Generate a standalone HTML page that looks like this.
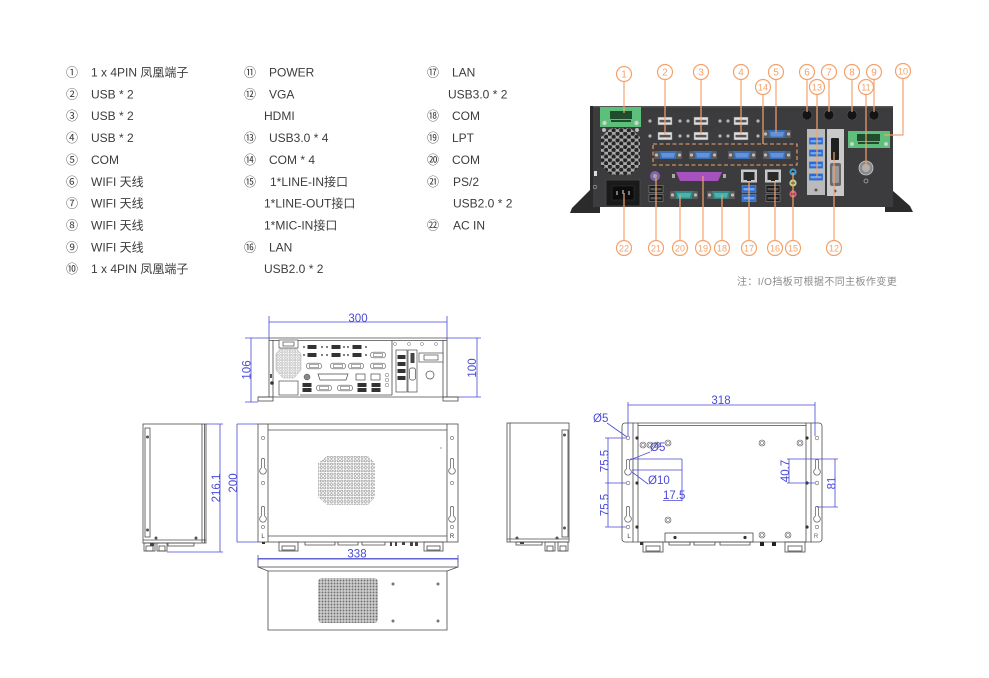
<!DOCTYPE html>
<html><head><meta charset="utf-8">
<style>
html,body{margin:0;padding:0;background:#fff;}
svg{display:block;}
.t{font-family:"Liberation Sans","Noto Sans CJK SC",sans-serif;font-size:12px;fill:#3c3c3c;}
.c{font-family:"Noto Sans CJK SC",sans-serif;font-size:12px;fill:#3c3c3c;text-anchor:middle;}
.o{fill:none;stroke:#f2a26c;stroke-width:1.2;}
.on{font-family:"Liberation Sans",sans-serif;font-size:10px;fill:#f2a26c;text-anchor:middle;}
.d{stroke:#4a4ad8;stroke-width:0.8;fill:none;}
.dt{font-family:"Liberation Sans",sans-serif;font-size:11.5px;fill:#4a4ad8;}
.l{stroke:#4a4a4a;stroke-width:0.8;fill:none;}
.lf{stroke:#4a4a4a;stroke-width:0.7;fill:#fff;}
</style></head><body>
<svg xmlns="http://www.w3.org/2000/svg" width="989" height="678" viewBox="0 0 989 678">
<defs>
<pattern id="hex" patternUnits="userSpaceOnUse" width="7.6" height="6.6"><rect width="7.6" height="6.6" fill="#a8a8a8"/><circle cx="1.9" cy="1.65" r="2.2" fill="#262626"/><circle cx="5.7" cy="4.95" r="2.2" fill="#262626"/></pattern>
<pattern id="vent" patternUnits="userSpaceOnUse" width="3.4" height="3.4"><circle cx="1.7" cy="1.7" r="1.1" fill="none" stroke="#777" stroke-width="0.5"/></pattern>
<pattern id="vent2" patternUnits="userSpaceOnUse" width="3" height="3"><rect width="3" height="3" fill="#d0d0d0"/><circle cx="1.5" cy="1.5" r="0.95" fill="#707070"/></pattern>
<pattern id="fan" patternUnits="userSpaceOnUse" width="2.6" height="2.6"><circle cx="1.3" cy="1.3" r="0.9" fill="none" stroke="#888" stroke-width="0.4"/></pattern>
<g id="db9b"><rect x="-14" y="-4" width="28" height="8" rx="1" fill="#5a5a5a"/><circle cx="-11.5" cy="0" r="1.6" fill="#bbb"/><circle cx="11.5" cy="0" r="1.6" fill="#bbb"/><path d="M-9,-4 L9,-4 L7.5,4 L-7.5,4 Z" fill="#3c6fb8"/><path d="M-7,-2 L7,-2 L6,2.5 L-6,2.5Z" fill="#6193d6"/></g>
<g id="db9t"><rect x="-14" y="-4" width="28" height="8" rx="1" fill="#5a5a5a"/><circle cx="-11.5" cy="0" r="1.6" fill="#bbb"/><circle cx="11.5" cy="0" r="1.6" fill="#bbb"/><path d="M-9,-4 L9,-4 L7.5,4 L-7.5,4 Z" fill="#2e8a86"/><path d="M-7,-2 L7,-2 L6,2.5 L-6,2.5Z" fill="#4fb0aa"/></g>
<g id="usbs"><rect x="-7" y="-3.8" width="14" height="7.6" fill="#e2e2e2" stroke="#8a8a8a" stroke-width="0.5"/><rect x="-5.5" y="-1.2" width="11" height="2.6" fill="#555"/></g>
<g id="usbb"><rect x="-7" y="-3.5" width="14" height="7" fill="#2a6bd1" stroke="#9ab" stroke-width="0.4"/><rect x="-5.5" y="-1" width="11" height="2.4" fill="#6fa4f0"/></g>
<g id="usbk"><rect x="-7" y="-3.5" width="14" height="7" fill="#1b1b1b" stroke="#999" stroke-width="0.5"/><rect x="-5.5" y="-1" width="11" height="2.4" fill="#555"/></g>
<g id="lan"><rect x="-8" y="-6.5" width="16" height="13" fill="#c8c8c8"/><rect x="-5.5" y="-4" width="11" height="8" fill="#2a2a2a"/><rect x="-2" y="3" width="4" height="2" fill="#2a2a2a"/></g>
<path id="kh" d="M-1.6,-6 A1.6,1.6 0 0 1 1.6,-6 L1.6,2 A3.3,3.3 0 1 1 -1.6,2 Z" fill="#fff" stroke="#555" stroke-width="0.7"/>
<g id="fdb"><rect x="-7.5" y="-2.8" width="15" height="5.6" rx="2.5" fill="#fff" stroke="#555" stroke-width="0.6"/><rect x="-4.5" y="-1.6" width="9" height="3.2" fill="#fff" stroke="#555" stroke-width="0.5"/></g>
<g id="fus"><rect x="-4.5" y="-2" width="9" height="4" fill="#333"/></g>
<g id="dr"><circle r="3" fill="#fff" stroke="#555" stroke-width="0.6"/><circle r="1.7" fill="none" stroke="#555" stroke-width="0.5"/></g>
</defs>

<!-- ===== LIST ===== -->
<g>
<text class="c" x="72" y="76.5">①</text><text class="t" x="91" y="76.5">1 x 4PIN 凤凰端子</text>
<text class="c" x="72" y="98.4">②</text><text class="t" x="91" y="98.4">USB * 2</text>
<text class="c" x="72" y="120.2">③</text><text class="t" x="91" y="120.2">USB * 2</text>
<text class="c" x="72" y="142.1">④</text><text class="t" x="91" y="142.1">USB * 2</text>
<text class="c" x="72" y="163.9">⑤</text><text class="t" x="91" y="163.9">COM</text>
<text class="c" x="72" y="185.8">⑥</text><text class="t" x="91" y="185.8">WIFI 天线</text>
<text class="c" x="72" y="207.7">⑦</text><text class="t" x="91" y="207.7">WIFI 天线</text>
<text class="c" x="72" y="229.5">⑧</text><text class="t" x="91" y="229.5">WIFI 天线</text>
<text class="c" x="72" y="251.4">⑨</text><text class="t" x="91" y="251.4">WIFI 天线</text>
<text class="c" x="72" y="273.2">⑩</text><text class="t" x="91" y="273.2">1 x 4PIN 凤凰端子</text>

<text class="c" x="250" y="76.5">⑪</text><text class="t" x="269" y="76.5">POWER</text>
<text class="c" x="250" y="98.4">⑫</text><text class="t" x="269" y="98.4">VGA</text>
<text class="t" x="264" y="120.2">HDMI</text>
<text class="c" x="250" y="142.1">⑬</text><text class="t" x="269" y="142.1">USB3.0 * 4</text>
<text class="c" x="250" y="163.9">⑭</text><text class="t" x="269" y="163.9">COM * 4</text>
<text class="c" x="250" y="185.8">⑮</text><text class="t" x="270" y="185.8">1*LINE-IN接口</text>
<text class="t" x="264" y="207.7">1*LINE-OUT接口</text>
<text class="t" x="264" y="229.5">1*MIC-IN接口</text>
<text class="c" x="250" y="251.4">⑯</text><text class="t" x="269" y="251.4">LAN</text>
<text class="t" x="264" y="273.2">USB2.0 * 2</text>

<text class="c" x="433" y="76.5">⑰</text><text class="t" x="452" y="76.5">LAN</text>
<text class="t" x="448" y="98.4">USB3.0 * 2</text>
<text class="c" x="433" y="120.2">⑱</text><text class="t" x="452" y="120.2">COM</text>
<text class="c" x="433" y="142.1">⑲</text><text class="t" x="452" y="142.1">LPT</text>
<text class="c" x="433" y="163.9">⑳</text><text class="t" x="452" y="163.9">COM</text>
<text class="c" x="433" y="185.8">㉑</text><text class="t" x="453" y="185.8">PS/2</text>
<text class="t" x="453" y="207.7">USB2.0 * 2</text>
<text class="c" x="433" y="229.5">㉒</text><text class="t" x="453" y="229.5">AC IN</text>
</g>

<!-- ===== PHOTO ===== -->
<g>
<path d="M590,190 L590,207 L600,207 L600,213 L570,213 L572,208 Z" fill="#2b2b2b"/>
<path d="M892,190 L910,206 L913,212 L885,212 L885,207 L892,207 Z" fill="#2b2b2b"/>
<rect x="590" y="106" width="303" height="101" fill="#3c3c3e"/>
<rect x="590" y="106" width="303" height="1.5" fill="#555"/>
<rect x="590" y="106" width="3" height="101" fill="#2a2a2a"/>
<!-- green terminal 1 -->
<rect x="600" y="107" width="41" height="20" fill="#5cbf7a"/>
<rect x="610" y="111" width="22" height="8" fill="#1f4d2d"/>
<rect x="611" y="120" width="20" height="2" fill="#1f4d2d"/>
<circle cx="604.5" cy="123" r="2.2" fill="#d0d0d0"/><circle cx="636.5" cy="123" r="2.2" fill="#d0d0d0"/>
<!-- fan -->
<path d="M611,128 L630,128 L640,137 L640,166 L630,175 L611,175 L601,166 L601,137 Z" fill="url(#hex)"/>
<circle cx="604" cy="130" r="2" fill="#bbb"/><circle cx="637" cy="130" r="2" fill="#bbb"/>
<rect x="594" y="171" width="3" height="5" fill="#ddd"/>
<circle cx="595" cy="187" r="1.8" fill="none" stroke="#aaa" stroke-width="0.6"/>
<!-- AC IN -->
<rect x="606" y="180" width="34" height="26" fill="#1a1a1a" stroke="#4a4a4a" stroke-width="0.8"/>
<rect x="612" y="186" width="22" height="14" fill="#0c0c0c" stroke="#333" stroke-width="0.6"/>
<rect x="616" y="191" width="2" height="4" fill="#777"/><rect x="622" y="190" width="2" height="4" fill="#777"/><rect x="628" y="191" width="2" height="4" fill="#777"/>
<!-- USB silver -->
<use href="#usbs" x="665" y="121"/><use href="#usbs" x="701" y="121"/><use href="#usbs" x="741" y="121"/>
<use href="#usbs" x="665" y="136"/><use href="#usbs" x="701" y="136"/><use href="#usbs" x="741" y="136"/>
<g fill="#b5b5b5">
<circle cx="650" cy="121" r="1.6"/><circle cx="680" cy="121" r="1.6"/><circle cx="688" cy="121" r="1.6"/><circle cx="720" cy="121" r="1.6"/><circle cx="728" cy="121" r="1.6"/><circle cx="758" cy="121" r="1.6"/>
<circle cx="650" cy="136" r="1.6"/><circle cx="680" cy="136" r="1.6"/><circle cx="688" cy="136" r="1.6"/><circle cx="720" cy="136" r="1.6"/><circle cx="728" cy="136" r="1.6"/><circle cx="758" cy="136" r="1.6"/>
</g>
<use href="#db9b" x="777" y="134"/>
<use href="#db9b" x="668" y="155"/><use href="#db9b" x="703" y="155"/><use href="#db9b" x="742" y="155"/><use href="#db9b" x="777" y="155"/>
<rect x="653" y="144" width="144" height="21" fill="none" stroke="#f2a26c" stroke-width="1.1" stroke-dasharray="4,2.5"/>
<!-- bottom ports -->
<circle cx="655" cy="176" r="5" fill="#8e5bb5"/><circle cx="655" cy="176" r="2" fill="#7fc08a"/>
<use href="#usbk" x="656" y="189"/><use href="#usbk" x="656" y="198"/>
<path d="M676,172 L722,172 L718,181 L680,181 Z" fill="#a552bf"/><rect x="672" y="174" width="3" height="4" fill="#aaa"/><rect x="723" y="174" width="3" height="4" fill="#aaa"/>
<use href="#db9t" x="684" y="195"/><use href="#db9t" x="721" y="195"/>
<use href="#lan" x="749" y="176"/><use href="#lan" x="773" y="176"/>
<use href="#usbb" x="749" y="189"/><use href="#usbb" x="749" y="198"/>
<use href="#usbk" x="773" y="189"/><use href="#usbk" x="773" y="198"/>
<circle cx="793" cy="172" r="3.6" fill="#39a0d8"/><circle cx="793" cy="172" r="1.5" fill="#222"/>
<circle cx="793" cy="183" r="3.6" fill="#bcd68c"/><circle cx="793" cy="183" r="1.5" fill="#222"/>
<circle cx="793" cy="194" r="3.6" fill="#e0607a"/><circle cx="793" cy="194" r="1.5" fill="#222"/>
<!-- antennas -->
<g fill="#141414" stroke="#555" stroke-width="0.6">
<circle cx="807" cy="115" r="5"/><circle cx="829" cy="115" r="5"/><circle cx="852" cy="115" r="5"/><circle cx="874" cy="115" r="5"/>
</g>
<!-- USB3 plate -->
<rect x="807" y="129" width="18" height="66" fill="#bababa"/>
<use href="#usbb" x="816" y="141"/><use href="#usbb" x="816" y="153"/><use href="#usbb" x="816" y="165"/><use href="#usbb" x="816" y="177"/>
<circle cx="816" cy="190" r="1.5" fill="#555"/>
<!-- HDMI VGA plate -->
<rect x="827" y="129" width="17" height="67" fill="#c9c9c9"/>
<rect x="831" y="138" width="8" height="22" rx="1" fill="#1f1f1f"/>
<rect x="830" y="163" width="11" height="23" rx="2" fill="#6a6a6a"/><rect x="832" y="166" width="7" height="17" rx="1" fill="#999"/>
<circle cx="835" cy="191" r="1.5" fill="#555"/>
<!-- green terminal 2 -->
<rect x="848" y="131" width="42" height="17" fill="#5cbf7a"/>
<rect x="857" y="134" width="23" height="7" fill="#1f4d2d"/>
<rect x="858" y="142" width="21" height="2" fill="#1f4d2d"/>
<circle cx="852" cy="144" r="2" fill="#d0d0d0"/><circle cx="886" cy="144" r="2" fill="#d0d0d0"/>
<!-- power knob -->
<circle cx="866" cy="168" r="7" fill="#8a8a8a" stroke="#c8c8c8" stroke-width="0.8"/><circle cx="866" cy="168" r="4" fill="#b0b0b0"/>
<circle cx="866" cy="181" r="2" fill="none" stroke="#bbb" stroke-width="0.7"/>
</g>

<!-- callouts -->
<g class="o">
<line x1="624" y1="81.5" x2="624" y2="113"/>
<line x1="665" y1="79.5" x2="665" y2="135"/>
<line x1="701" y1="79.5" x2="701" y2="135"/>
<line x1="741" y1="79.5" x2="741" y2="135"/>
<line x1="776" y1="79.5" x2="776" y2="133"/>
<line x1="763" y1="94.5" x2="763" y2="144"/>
<line x1="807" y1="79.5" x2="807" y2="112"/>
<line x1="817" y1="94.5" x2="817" y2="177"/>
<line x1="829" y1="79.5" x2="829" y2="112"/>
<line x1="852" y1="79.5" x2="852" y2="112"/>
<line x1="866" y1="94.5" x2="866" y2="168"/>
<line x1="874" y1="79.5" x2="874" y2="112"/>
<polyline points="903,78.5 903,135 884,135"/>
<line x1="624" y1="240.5" x2="624" y2="193"/>
<line x1="656" y1="240.5" x2="656" y2="178"/>
<line x1="680" y1="240.5" x2="680" y2="195"/>
<line x1="703" y1="240.5" x2="703" y2="176"/>
<line x1="722" y1="240.5" x2="722" y2="195"/>
<line x1="749" y1="240.5" x2="749" y2="182"/>
<line x1="775" y1="240.5" x2="775" y2="182"/>
<line x1="793" y1="240.5" x2="793" y2="172"/>
<line x1="834" y1="240.5" x2="834" y2="152"/>
<g fill="#fff">
<circle cx="624" cy="74" r="7.5"/><circle cx="665" cy="72" r="7.5"/><circle cx="701" cy="72" r="7.5"/><circle cx="741" cy="72" r="7.5"/><circle cx="776" cy="72" r="7.5"/>
<circle cx="763" cy="87" r="7.5"/><circle cx="807" cy="72" r="7.5"/><circle cx="817" cy="87" r="7.5"/><circle cx="829" cy="72" r="7.5"/><circle cx="852" cy="72" r="7.5"/>
<circle cx="866" cy="87" r="7.5"/><circle cx="874" cy="72" r="7.5"/><circle cx="903" cy="71" r="7.5"/>
<circle cx="624" cy="248" r="7.5"/><circle cx="656" cy="248" r="7.5"/><circle cx="680" cy="248" r="7.5"/><circle cx="703" cy="248" r="7.5"/><circle cx="722" cy="248" r="7.5"/>
<circle cx="749" cy="248" r="7.5"/><circle cx="775" cy="248" r="7.5"/><circle cx="793" cy="248" r="7.5"/><circle cx="834" cy="248" r="7.5"/>
</g>
</g>
<g class="on">
<text x="624" y="77.6">1</text><text x="665" y="75.6">2</text><text x="701" y="75.6">3</text><text x="741" y="75.6">4</text><text x="776" y="75.6">5</text>
<text x="763" y="90.6" font-size="9">14</text><text x="807" y="75.6">6</text><text x="817" y="90.6" font-size="9">13</text><text x="829" y="75.6">7</text><text x="852" y="75.6">8</text>
<text x="866" y="90.6" font-size="9">11</text><text x="874" y="75.6">9</text><text x="903" y="74.6" font-size="9">10</text>
<text x="624" y="251.4" font-size="9">22</text><text x="656" y="251.4" font-size="9">21</text><text x="680" y="251.4" font-size="9">20</text><text x="703" y="251.4" font-size="9">19</text><text x="722" y="251.4" font-size="9">18</text>
<text x="749" y="251.4" font-size="9">17</text><text x="775" y="251.4" font-size="9">16</text><text x="793" y="251.4" font-size="9">15</text><text x="834" y="251.4" font-size="9">12</text>
</g>
<text x="737" y="285" style="font-family:'Liberation Sans','Noto Sans CJK SC',sans-serif;font-size:10px;fill:#8a8a8a;letter-spacing:0.4px">注：I/O挡板可根据不同主板作变更</text>

<!-- ===== FRONT VIEW ===== -->
<g>
<path class="d" d="M269,316 V338 M447,316 V338 M269,322 H447"/>
<text class="dt" x="358" y="322" text-anchor="middle">300</text>
<path class="d" d="M245,338 H269 M245,402 H258 M251,338 V402"/>
<text class="dt" transform="translate(250.5,370) rotate(-90)" text-anchor="middle">106</text>
<path class="d" d="M447,338 H481 M458,397 H481 M477,338 V397"/>
<text class="dt" transform="translate(476,368) rotate(-90)" text-anchor="middle">100</text>

<g class="l">
<line x1="269" y1="338" x2="447" y2="338"/>
<line x1="269" y1="340.5" x2="447" y2="340.5"/>
<line x1="269" y1="338" x2="269" y2="397"/>
<line x1="273" y1="340" x2="273" y2="397"/>
<line x1="447" y1="338" x2="447" y2="397"/>
<line x1="443" y1="340" x2="443" y2="397"/>
<line x1="258" y1="397" x2="458" y2="397"/>
<rect x="258" y="397" width="15" height="4"/>
<rect x="443" y="397" width="15" height="4"/>
<line x1="300" y1="395" x2="392" y2="395"/>
<line x1="392" y1="340" x2="392" y2="395"/>
</g>
<path d="M281,348 L296,348 L301,354 L301,370 L294,378 L283,378 L276,370 L276,354 Z" fill="url(#fan)" stroke="#999" stroke-width="0.4"/>
<rect x="279" y="340" width="19" height="8" class="lf"/><rect x="283" y="342" width="11" height="4" class="lf"/>
<rect x="279" y="381" width="19" height="14" class="lf"/>
<rect x="270" y="374" width="2" height="4" fill="#555"/><circle cx="272" cy="383" r="1.8" fill="#333"/>
<use href="#fus" x="312" y="347"/><use href="#fus" x="336" y="347"/><use href="#fus" x="357" y="347"/>
<use href="#fus" x="312" y="355"/><use href="#fus" x="336" y="355"/><use href="#fus" x="357" y="355"/>
<g fill="#555"><circle cx="304" cy="347" r="1"/><circle cx="322" cy="347" r="1"/><circle cx="327" cy="347" r="1"/><circle cx="344" cy="347" r="1"/><circle cx="348" cy="347" r="1"/><circle cx="366" cy="347" r="1"/>
<circle cx="304" cy="355" r="1"/><circle cx="322" cy="355" r="1"/><circle cx="327" cy="355" r="1"/><circle cx="344" cy="355" r="1"/><circle cx="348" cy="355" r="1"/><circle cx="366" cy="355" r="1"/></g>
<use href="#fdb" x="378" y="355"/>
<use href="#fdb" x="314" y="366"/><use href="#fdb" x="338" y="366"/><use href="#fdb" x="356" y="366"/><use href="#fdb" x="378" y="366"/>
<circle cx="307" cy="377" r="3" fill="#888" stroke="#444" stroke-width="0.5"/>
<path d="M318,374 L348,374 L346,380 L320,380 Z" class="lf"/>
<rect x="356" y="374" width="9" height="6" class="lf"/><rect x="371" y="374" width="9" height="6" class="lf"/>
<use href="#fus" x="307" y="385"/><use href="#fus" x="307" y="390"/>
<use href="#fus" x="362" y="385"/><use href="#fus" x="362" y="390"/>
<use href="#fus" x="376" y="385"/><use href="#fus" x="376" y="390"/>
<use href="#fdb" x="324" y="388"/><use href="#fdb" x="345" y="388"/>
<g fill="none" stroke="#666" stroke-width="0.5"><circle cx="387" cy="375" r="1.8"/><circle cx="387" cy="380" r="1.8"/><circle cx="387" cy="385" r="1.8"/>
<circle cx="395" cy="344" r="1.5"/><circle cx="409" cy="344" r="1.5"/><circle cx="422" cy="344" r="1.5"/><circle cx="436" cy="344" r="1.5"/></g>
<rect x="396" y="350" width="11" height="42" class="lf"/>
<rect x="397.5" y="355" width="8" height="4" fill="#333"/><rect x="397.5" y="362" width="8" height="4" fill="#333"/><rect x="397.5" y="369" width="8" height="4" fill="#333"/><rect x="397.5" y="376" width="8" height="4" fill="#333"/>
<rect x="408" y="350" width="9" height="42" class="lf"/>
<rect x="410.5" y="353" width="4" height="10" fill="#444"/><rect x="409.5" y="368" width="6" height="12" rx="2" class="lf"/>
<rect x="419" y="353" width="24" height="9" class="lf"/><rect x="424" y="355" width="14" height="5" class="lf"/>
<circle cx="430" cy="375" r="4" class="lf"/>
</g>

<!-- ===== LEFT SIDE VIEW ===== -->
<g>
<rect x="143" y="424" width="63" height="119" class="l"/>
<rect x="145" y="428" width="5" height="109" class="l"/>
<line x1="202" y1="424" x2="202" y2="543" class="l"/>
<line x1="204.5" y1="424" x2="204.5" y2="543" class="l"/>
<line x1="143" y1="540" x2="206" y2="540" class="l"/>
<g fill="#555"><circle cx="147.5" cy="437" r="1.5"/><circle cx="147.5" cy="530" r="1.5"/><circle cx="156" cy="538" r="1.5"/><circle cx="196" cy="538" r="1.5"/></g>
<rect x="144" y="543" width="11" height="8" class="l"/><rect x="146" y="546" width="7" height="5" class="l"/>
<rect x="157" y="543" width="10" height="8" class="l"/><rect x="159" y="546" width="6" height="5" class="l"/>
<rect x="168" y="543" width="26" height="3" class="l"/><rect x="150" y="543" width="4" height="3" fill="#444"/>
<path class="d" d="M206,424 H223 M167,552 H223 M220,424 V552"/>
<text class="dt" transform="translate(220,488) rotate(-90)" text-anchor="middle">216.1</text>
</g>

<!-- ===== TOP VIEW ===== -->
<g>
<rect x="258" y="424" width="200" height="118" class="l"/>
<line x1="268" y1="424" x2="268" y2="542" class="l"/>
<line x1="447" y1="424" x2="447" y2="542" class="l"/>
<line x1="268" y1="430" x2="447" y2="430" class="l"/>
<line x1="268" y1="536" x2="447" y2="536" class="l"/>
<g fill="none" stroke="#666" stroke-width="0.6">
<circle cx="263" cy="438" r="1.6"/><circle cx="263" cy="483" r="1.6"/><circle cx="263" cy="527" r="1.6"/>
<circle cx="452" cy="438" r="1.6"/><circle cx="452" cy="483" r="1.6"/><circle cx="452" cy="527" r="1.6"/>
</g>
<use href="#kh" x="263" y="466"/><use href="#kh" x="263" y="514"/>
<use href="#kh" x="452" y="466"/><use href="#kh" x="452" y="514"/>
<text x="263" y="538" text-anchor="middle" style="font-family:'Liberation Sans',sans-serif;font-size:6px;fill:#333">L</text>
<text x="452" y="538" text-anchor="middle" style="font-family:'Liberation Sans',sans-serif;font-size:6px;fill:#333">R</text>
<circle cx="441" cy="448" r="0.6" fill="#555"/>
<path d="M327,456 L368,456 L375,463 L375,497 L368,505 L327,505 L318,497 L318,463 Z" fill="url(#vent)"/>
<rect x="279" y="542" width="19" height="9" class="l"/><rect x="282" y="546" width="13" height="4" class="l"/><rect x="262" y="542" width="3" height="2" fill="#333"/>
<rect x="424" y="542" width="19" height="9" class="l"/><rect x="427" y="546" width="13" height="4" class="l"/>
<path class="l" d="M305,542 V545 H335 V542 M338,542 V545 H358 V542 M362,542 V545 H385 V542"/>
<g fill="#444"><rect x="390" y="542" width="2" height="4"/><rect x="395" y="542" width="2" height="4"/><rect x="402" y="542" width="3" height="3"/><rect x="410" y="542" width="3" height="4"/><rect x="415" y="542" width="3" height="4"/></g>
<path class="d" d="M237,424 H258 M237,542 H258 M237,424 V542"/>
<text class="dt" transform="translate(237,483) rotate(-90)" text-anchor="middle">200</text>
</g>

<!-- ===== BOTTOM VIEW ===== -->
<g>
<rect x="258" y="559" width="200" height="8" class="l"/>
<path class="l" d="M258,567 L268,571 L268,630 L447,630 L447,571 L458,567"/>
<line x1="268" y1="571" x2="447" y2="571" class="l"/>
<path class="d" d="M258,555 V562 M458,555 V562 M258,558.5 H458"/>
<text class="dt" x="357" y="557.5" text-anchor="middle">338</text>
<rect x="318" y="578" width="60" height="45" rx="4" fill="url(#vent2)"/>
<g fill="#777"><circle cx="393" cy="584" r="1.5"/><circle cx="438" cy="584" r="1.5"/><circle cx="393" cy="621" r="1.5"/><circle cx="438" cy="621" r="1.5"/></g>
</g>

<!-- ===== RIGHT SIDE VIEW ===== -->
<g>
<rect x="507" y="423" width="62" height="119" class="l"/>
<line x1="510" y1="423" x2="510" y2="542" class="l"/>
<rect x="562" y="430" width="6" height="107" class="l"/>
<line x1="507" y1="539" x2="569" y2="539" class="l"/>
<g fill="#555"><circle cx="564.5" cy="435" r="1.5"/><circle cx="564.5" cy="528" r="1.5"/><circle cx="517" cy="538" r="1.5"/><circle cx="557" cy="538" r="1.5"/></g>
<rect x="516" y="542" width="26" height="3" class="l"/><rect x="520" y="542" width="4" height="2" fill="#444"/>
<rect x="545" y="542" width="10" height="9" class="l"/><rect x="547" y="546" width="6" height="5" class="l"/>
<rect x="558" y="542" width="10" height="9" class="l"/><rect x="560" y="546" width="6" height="5" class="l"/>
</g>

<!-- ===== RIGHT DRAWING ===== -->
<g>
<rect x="622" y="423" width="200" height="119" rx="3" class="l"/>
<line x1="633" y1="423" x2="633" y2="542" class="l"/>
<line x1="638" y1="423" x2="638" y2="542" class="l"/>
<line x1="806" y1="423" x2="806" y2="542" class="l"/>
<line x1="811" y1="423" x2="811" y2="542" class="l"/>
<line x1="638" y1="425.5" x2="806" y2="425.5" class="l"/>
<g fill="none" stroke="#666" stroke-width="0.6">
<circle cx="628" cy="438" r="1.8"/><circle cx="628" cy="483" r="1.8"/><circle cx="628" cy="527" r="1.8"/>
<circle cx="817" cy="438" r="1.8"/><circle cx="817" cy="483" r="1.8"/><circle cx="817" cy="527" r="1.8"/>
</g>
<use href="#kh" x="628" y="467"/><use href="#kh" x="628" y="514"/>
<use href="#kh" x="817" y="467"/><use href="#kh" x="817" y="514"/>
<g fill="#333"><circle cx="637" cy="438" r="1.6"/><circle cx="637" cy="483" r="1.6"/><circle cx="637" cy="527" r="1.6"/>
<circle cx="807" cy="438" r="1.6"/><circle cx="807" cy="483" r="1.6"/><circle cx="807" cy="527" r="1.6"/></g>
<use href="#dr" x="643" y="445"/><use href="#dr" x="650" y="445"/><use href="#dr" x="657" y="445"/>
<use href="#dr" x="668" y="443"/><use href="#dr" x="762" y="443"/><use href="#dr" x="800" y="443"/>
<use href="#dr" x="668" y="520"/><use href="#dr" x="762" y="535"/><use href="#dr" x="788" y="535"/>
<rect x="665" y="533" width="88" height="9" class="l"/>
<g fill="#333"><circle cx="675" cy="537.5" r="1.6"/><circle cx="745" cy="537.5" r="1.6"/></g>
<text x="629" y="538" text-anchor="middle" style="font-family:'Liberation Sans',sans-serif;font-size:6px;fill:#333">L</text>
<text x="816" y="538" text-anchor="middle" style="font-family:'Liberation Sans',sans-serif;font-size:6px;fill:#666">R</text>
<rect x="643" y="542" width="20" height="10" class="l"/><rect x="646" y="546" width="14" height="5" class="l"/><rect x="640" y="542" width="3" height="3" fill="#333"/>
<rect x="785" y="542" width="20" height="10" class="l"/><rect x="788" y="546" width="14" height="5" class="l"/>
<path class="l" d="M669,542 V545 H690 V542 M694,542 V545 H715 V542 M720,542 V545 H750 V542"/>
<g fill="#222"><rect x="760" y="542" width="4" height="4"/><rect x="772" y="542" width="4" height="4"/></g>
<!-- dims -->
<path class="d" d="M628,402 V436 M815,402 V436 M628,405 H815"/>
<text class="dt" x="721" y="404" text-anchor="middle">318</text>
<text class="dt" x="593" y="422">Ø5</text>
<line x1="607" y1="423" x2="627" y2="437" class="d"/>
<text class="dt" x="650" y="451">Ø5</text>
<line x1="650" y1="452" x2="630" y2="460" class="d"/>
<text class="dt" x="648" y="484">Ø10</text>
<line x1="648" y1="484" x2="632" y2="472" class="d"/>
<path class="d" d="M630,459 H682 M632,470 H682 M682,459 V501 M663,500.5 H682"/>
<text class="dt" x="663" y="499">17.5</text>
<path class="d" d="M605,438 H626 M605,483 H626 M605,527 H626 M608,438 V527"/>
<text class="dt" transform="translate(608.5,461) rotate(-90)" text-anchor="middle">75.5</text>
<text class="dt" transform="translate(608.5,505) rotate(-90)" text-anchor="middle">75.5</text>
<path class="d" d="M787,459 H838 M787,483 H815 M789,459 V483 M817,507 H838 M835,459 V507"/>
<text class="dt" transform="translate(789,471) rotate(-90)" text-anchor="middle">40.7</text>
<text class="dt" transform="translate(835.5,483) rotate(-90)" text-anchor="middle">81</text>
</g>
</svg>
</body></html>
